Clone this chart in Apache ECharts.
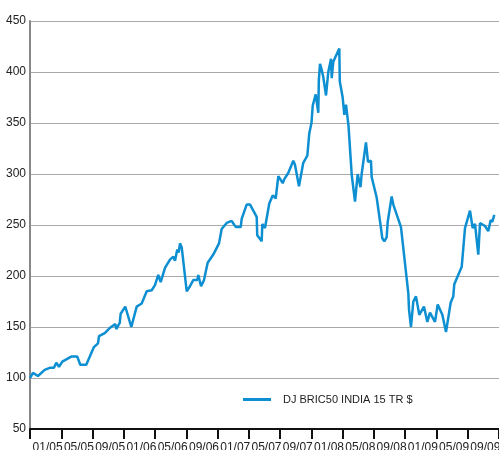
<!DOCTYPE html>
<html>
<head>
<meta charset="utf-8">
<script src="https://cdn.jsdelivr.net/npm/echarts@6/dist/echarts.min.js"></script>
<style>
  html, body { margin: 0; padding: 0; background: #fff; }
  #chart { width: 499px; height: 450px; }
</style>
</head>
<body>
<div id="chart"></div>
<script>
// tick labels on the date axis (one per 4-month band)
var periodLabels = ['01/05', '05/05', '09/05', '01/06', '05/06', '09/06', '01/07', '05/07',
                    '09/07', '01/08', '05/08', '09/08', '01/09', '05/09', '09/09'];
var seriesName = 'DJ BRIC50 INDIA 15 TR $';

// months elapsed since start of the axis
var months = [0, 0.38, 1.02, 1.88, 2.52, 3.07, 3.36, 3.71, 4.13, 5.28, 6.05, 6.43, 7.2, 8.15, 8.7, 8.83,
  9.56, 10.2, 10.91, 11.04, 11.48, 11.6, 12.19, 12.96, 13.65, 14.29, 14.93, 15.57, 15.99, 16.41,
  16.72, 17.27, 17.91, 18.33, 18.55, 18.84, 19.02, 19.19, 19.41, 20.05, 20.47, 20.89, 21.4, 21.53,
  21.88, 22.26, 22.73, 23.45, 24.18, 24.52, 25.16, 25.8, 26.14, 26.35, 26.96, 27.08, 27.72, 28.15,
  29.0, 29.07, 29.64, 29.72, 30.06, 30.61, 31.05, 31.43, 31.77, 32.33, 32.53, 33.04, 33.68, 33.9,
  34.41, 34.96, 35.48, 35.73, 36.01, 36.17, 36.55, 36.88, 36.95, 37.1, 37.32, 37.52, 37.87, 38.16,
  38.51, 38.6, 38.8, 39.57, 39.63, 40.0, 40.21, 40.43, 40.75, 41.16, 41.58, 41.92, 42.28, 42.43,
  42.98, 43.24, 43.62, 43.71, 44.35, 44.9, 45.07, 45.33, 45.63, 45.76, 46.27, 46.48, 47.46, 48.4,
  48.49, 48.74, 49.04, 49.38, 49.8, 50.4, 50.83, 51.17, 51.81, 52.16, 52.75, 53.22, 53.82, 54.15,
  54.28, 55.23, 55.65, 56.29, 56.63, 56.93, 57.35, 57.57, 58.21, 58.63, 58.94, 59.14, 59.4];

var values = [100, 105, 102, 108, 110, 110, 115, 111, 116, 121, 121, 113, 113, 130, 134, 141,
  144, 149, 153, 148, 154, 163, 170, 150, 170, 173, 185, 186, 191, 201,
  194, 208, 216, 219, 215, 226, 223, 232, 228, 185, 190, 196, 196, 201,
  190, 196, 213, 221, 232, 246, 252, 254, 250, 248, 248, 256, 270, 270,
  258, 240, 234, 251, 247, 271, 279, 276, 298, 291, 295, 301, 313, 309,
  288, 311, 318, 340, 350, 367, 378, 360, 392, 408, 402, 395, 377, 400,
  413, 394, 410, 423, 391, 375, 358, 368, 347, 299, 273, 300, 287, 300,
  331, 312, 313, 297, 277, 247, 237, 234, 238, 253, 278, 270, 248, 183,
  167, 150, 175, 180, 162, 170, 155, 164, 155, 172, 162, 145, 174, 180,
  192, 209, 247, 264, 247, 251, 221, 252, 249, 244, 255, 253, 260];

var points = months.map(function (m, i) { return [m, values[i]]; });

var chart = echarts.init(document.getElementById('chart'));
var lineColor = '#0d8fd1';
var font = 'Liberation Sans, Arial, sans-serif';

chart.setOption({
  animation: false,
  grid: { left: 30, right: 0, top: 21, bottom: 21, outerBoundsMode: 'none', containLabel: false },
  legend: {
    left: 243, top: 394, padding: 0,
    icon: 'rect', itemWidth: 28, itemHeight: 3,
    textStyle: { fontFamily: font, fontSize: 11, color: '#222', padding: [0, 0, 0, 7] },
    data: [{ name: seriesName, itemStyle: { color: lineColor } }]
  },
  xAxis: [{
    type: 'category',
    data: periodLabels,
    boundaryGap: true,
    axisLine: { show: true, onZero: false, lineStyle: { color: '#111', width: 2 } },
    axisTick: { show: true, length: 10, lineStyle: { color: '#111', width: 2 } },
    axisLabel: { margin: 13, fontFamily: font, fontSize: 12, color: '#222', interval: 0, padding: [0, 0, 0, 4] },
    splitLine: { show: false }
  }, {
    type: 'value',
    min: 0, max: 60,
    show: false
  }],
  yAxis: {
    type: 'value',
    min: 50, max: 450, interval: 50,
    axisLine: { show: true, lineStyle: { color: '#888', width: 2 } },
    axisTick: { show: false },
    axisLabel: { margin: 4, fontFamily: font, fontSize: 12, color: '#222' },
    splitLine: { lineStyle: { color: '#aaa', width: 1 } }
  },
  series: [{
    name: seriesName,
    type: 'line',
    xAxisIndex: 1,
    data: points,
    showSymbol: false,
    lineStyle: { color: lineColor, width: 2.5 },
    itemStyle: { color: lineColor }
  }]
});
</script>
</body>
</html>
